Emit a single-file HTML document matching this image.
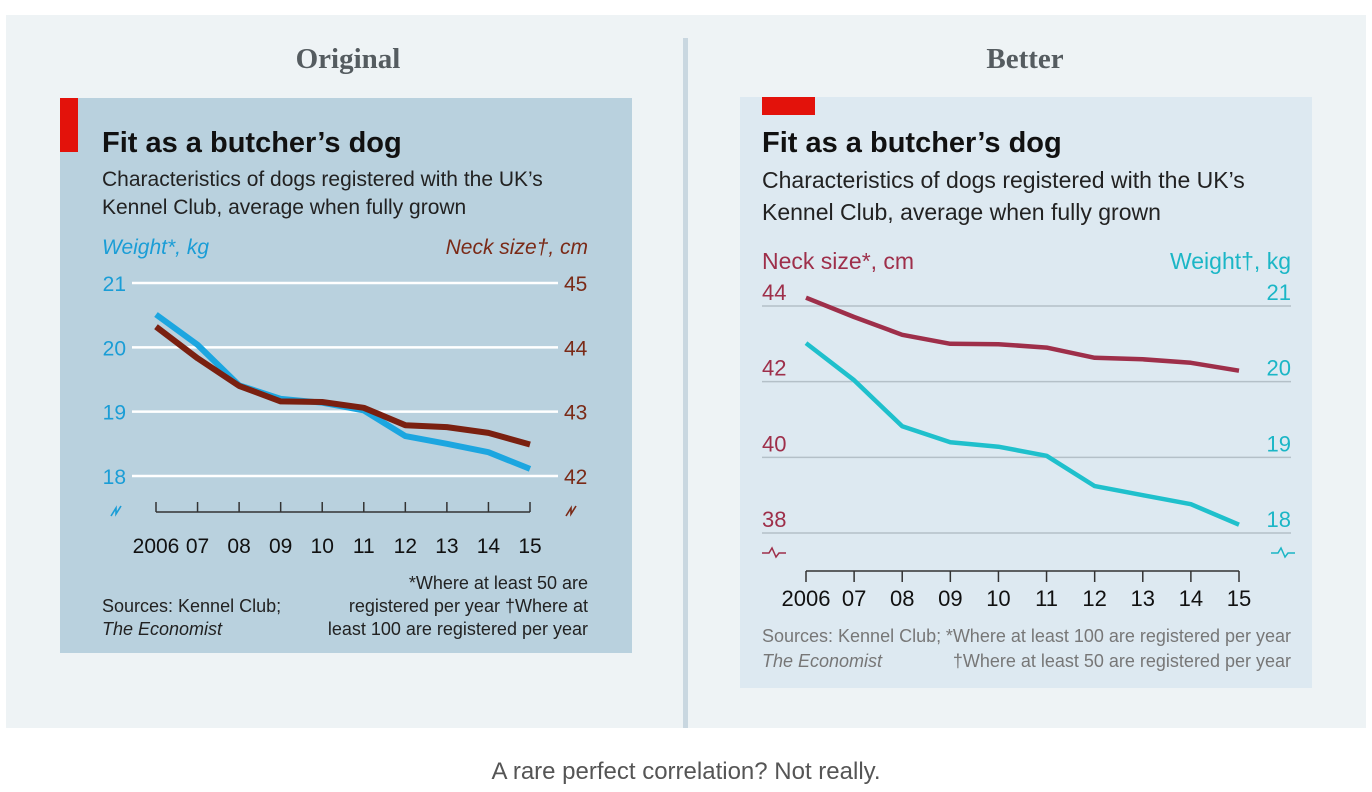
<!DOCTYPE html>
<html><head><meta charset="utf-8"><style>
html,body{margin:0;padding:0;background:#fff;}
svg{display:block;}
.n{font-family:"Liberation Sans Narrow","Liberation Sans",sans-serif;}
</style></head><body>
<svg id="svg" width="1372" height="792" viewBox="0 0 1372 792" xmlns="http://www.w3.org/2000/svg">
<rect x="6" y="15" width="1360" height="713" fill="#eef3f5"/>
<rect x="683" y="38" width="5" height="690" fill="#c9d7e0"/>
<text x="348" y="68" text-anchor="middle" font-family="Liberation Serif, serif" font-weight="bold" font-size="29" fill="#555c60">Original</text>
<text x="1025" y="68" text-anchor="middle" font-family="Liberation Serif, serif" font-weight="bold" font-size="29" fill="#555c60">Better</text>

<g>
<rect x="60" y="98" width="572" height="555" fill="#b9d1de"/>
<rect x="60" y="98" width="18" height="54" fill="#e3120b"/>
<text class="n" x="102" y="152" font-size="29" font-weight="bold" fill="#111">Fit as a butcher’s dog</text>
<text class="n" x="102" y="186" font-size="21" fill="#222">Characteristics of dogs registered with the UK’s</text>
<text class="n" x="102" y="214" font-size="21" fill="#222">Kennel Club, average when fully grown</text>
<text class="n" x="102" y="254" font-size="21" font-style="italic" fill="#1a9dd6">Weight*, kg</text>
<text class="n" x="588" y="254" text-anchor="end" font-size="21" font-style="italic" fill="#7a2a17">Neck size†, cm</text>
<g id="gL"></g>
<text class="n" x="102" y="612" font-size="18" fill="#222">Sources: Kennel Club;</text>
<text class="n" x="102" y="635" font-size="18" font-style="italic" fill="#222">The Economist</text>
<text class="n" x="588" y="589" text-anchor="end" font-size="18" fill="#222">*Where at least 50 are</text>
<text class="n" x="588" y="612" text-anchor="end" font-size="18" fill="#222">registered per year   †Where at</text>
<text class="n" x="588" y="635" text-anchor="end" font-size="18" fill="#222">least 100 are registered per year</text>
</g>

<g>
<rect x="740" y="97" width="572" height="591" fill="#dde9f1"/>
<rect x="762" y="97" width="53" height="18" fill="#e3120b"/>
<text class="n" x="762" y="152" font-size="29" font-weight="bold" fill="#111">Fit as a butcher’s dog</text>
<text class="n" x="762" y="188" font-size="23" fill="#222">Characteristics of dogs registered with the UK’s</text>
<text class="n" x="762" y="220" font-size="23" fill="#222">Kennel Club, average when fully grown</text>
<text class="n" x="762" y="269" font-size="23" fill="#9e2f4a">Neck size*, cm</text>
<text class="n" x="1291" y="269" text-anchor="end" font-size="23" fill="#1bb6c6">Weight†, kg</text>
<g id="gR"></g>
<text class="n" x="762" y="642" font-size="18" fill="#777">Sources: Kennel Club;</text>
<text class="n" x="762" y="667" font-size="18" font-style="italic" fill="#777">The Economist</text>
<text class="n" x="1291" y="642" text-anchor="end" font-size="18" fill="#777">*Where at least 100 are registered per year</text>
<text class="n" x="1291" y="667" text-anchor="end" font-size="18" fill="#777">†Where at least 50 are registered per year</text>
</g>

<text x="686" y="779" text-anchor="middle" font-family="Liberation Sans, sans-serif" font-size="24" fill="#555">A rare perfect correlation? Not really.</text>
</svg>
<script>
const years = ["2006","07","08","09","10","11","12","13","14","15"];
const weightOrig = [20.51,20.04,19.41,19.2,19.14,19.02,18.62,18.5,18.37,18.11];
const neckOrig = [44.32,43.83,43.40,43.16,43.15,43.06,42.79,42.76,42.67,42.49];
const weightBetter = [20.51,20.02,19.41,19.2,19.14,19.02,18.62,18.5,18.38,18.11];
const neckBetter = [44.22,43.71,43.24,43.0,42.99,42.9,42.63,42.59,42.5,42.29];
const weightTicksOrig = [18,19,20,21];
const neckTicksOrig = [42,43,44,45];
const neckTicksBetter = [38,40,42,44];
const weightTicksBetter = [18,19,20,21];

const NS="http://www.w3.org/2000/svg";
function mk(g,tag,attrs,txt){const e=document.createElementNS(NS,tag);for(const k in attrs)e.setAttribute(k,attrs[k]);if(txt!==undefined)e.textContent=txt;g.appendChild(e);return e;}
function lin(d0,d1,r0,r1){return v=>r0+(v-d0)*(r1-r0)/(d1-d0);}
function path(xs,vals,y){return vals.map((v,i)=>(i?"L":"M")+xs(i).toFixed(1)+","+y(v).toFixed(1)).join(" ");}

// Original
(function(){
const g=document.getElementById('gL');
const x=lin(0,years.length-1,156,530);
const yW=lin(18,21,476,283), yN=lin(42,45,476,283);
weightTicksOrig.forEach((t,i)=>{
  const gl=mk(g,'line',{x1:132,x2:558,y1:yW(t),y2:yW(t),stroke:'#fff','stroke-width':2.5});
  
  
  const lt=mk(g,'text',{x:126,y:yW(t)+8,'text-anchor':'end','font-size':21,fill:'#1a9dd6',class:'n'},String(t));
  
  
});
neckTicksOrig.forEach(t=>{
  const rt=mk(g,'text',{x:564,y:yN(t)+8,'font-size':21,fill:'#7a2a17',class:'n'},String(t));
  
  
});
const ax=mk(g,'line',{x1:156,x2:530,y1:512,y2:512,stroke:'#333','stroke-width':1.5});


years.forEach((yr,i)=>{
  mk(g,'line',{x1:x(i),x2:x(i),y1:502,y2:512,stroke:'#333','stroke-width':1.5});
  const tl=mk(g,'text',{x:x(i),y:553,'text-anchor':'middle','font-size':21,fill:'#111',class:'n'},yr);
  
  
});
const b1=mk(g,'path',{d:'M111,516 l5,-8 v6 l5,-8',fill:'none',stroke:'#1a9dd6','stroke-width':1.6});


const b2=mk(g,'path',{d:'M566,516 l5,-8 v6 l5,-8',fill:'none',stroke:'#7a2a17','stroke-width':1.6});


const w=mk(g,'path',{d:path(x,weightOrig,yW),fill:'none',stroke:'#1ca6e0','stroke-width':6,'stroke-linejoin':'round'});


const n=mk(g,'path',{d:path(x,neckOrig,yN),fill:'none',stroke:'#7a2010','stroke-width':6,'stroke-linejoin':'round'});


})();

// Better
(function(){
const g=document.getElementById('gR');
const x=lin(0,years.length-1,806,1239);
const yN=lin(38,44,533,306), yW=lin(18,21,533,306);
neckTicksBetter.forEach(t=>{
  const gl=mk(g,'line',{x1:762,x2:1291,y1:yN(t),y2:yN(t),stroke:'#b4c0c8','stroke-width':1.5});
  
  
  const lt=mk(g,'text',{x:762,y:yN(t)-6,'font-size':22,fill:'#9e2f4a',class:'n'},String(t));
  
  
});
weightTicksBetter.forEach(t=>{
  const rt=mk(g,'text',{x:1291,y:yW(t)-6,'text-anchor':'end','font-size':22,fill:'#1bb6c6',class:'n'},String(t));
  
  
});
const b1=mk(g,'path',{d:'M762,553 h7 l3,-5 l4,9 l3,-4 h7',fill:'none',stroke:'#9e2f4a','stroke-width':1.5});


const b2=mk(g,'path',{d:'M1271,553 h7 l3,-5 l4,9 l3,-4 h7',fill:'none',stroke:'#1bb6c6','stroke-width':1.5});


const ax=mk(g,'line',{x1:806,x2:1239,y1:571,y2:571,stroke:'#333','stroke-width':1.5});


years.forEach((yr,i)=>{
  mk(g,'line',{x1:x(i),x2:x(i),y1:571,y2:582,stroke:'#333','stroke-width':1.5});
  const tl=mk(g,'text',{x:x(i),y:606,'text-anchor':'middle','font-size':22,fill:'#111',class:'n'},yr);
  
  
});
const n=mk(g,'path',{d:path(x,neckBetter,yN),fill:'none',stroke:'#9e2f4a','stroke-width':4.5,'stroke-linejoin':'round'});


const w=mk(g,'path',{d:path(x,weightBetter,yW),fill:'none',stroke:'#1fc0cc','stroke-width':4.5,'stroke-linejoin':'round'});


})();
</script>
</body></html>
